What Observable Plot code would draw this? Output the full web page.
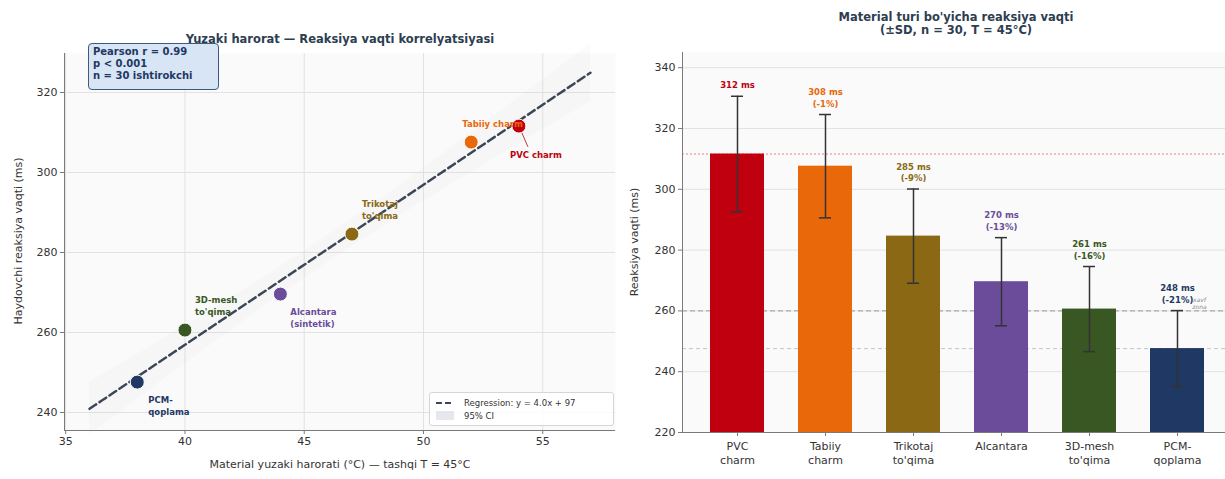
<!DOCTYPE html>
<html><head><meta charset="utf-8">
<script src="https://cdn.jsdelivr.net/npm/d3@7"></script>
<script src="https://cdn.jsdelivr.net/npm/@observablehq/plot@0.6"></script>
<style>
body{margin:0;background:#fff;font-family:"DejaVu Sans",sans-serif;}
#wrap{position:relative;width:1225px;height:479px;overflow:hidden;}
.abs{position:absolute;white-space:nowrap;}
.title{font-weight:bold;font-size:11.5px;color:#2c3e50;text-align:center;line-height:13px;}
.axlab{font-size:11px;color:#333;}
</style></head><body><div id="wrap"></div>
<script>
// ---- data ----
const materials = ["PVC charm","Tabiiy charm","Trikotaj to'qima","Alcantara","3D-mesh to'qima","PCM-qoplama"];
const barTickLabels = ["PVC\ncharm","Tabiiy\ncharm","Trikotaj\nto'qima","Alcantara","3D-mesh\nto'qima","PCM-\nqoplama"];
const scatterLabels = ["PVC charm","Tabiiy charm","Trikotaj\nto'qima","Alcantara\n(sintetik)","3D-mesh\nto'qima","PCM-\nqoplama"];
const surfaceTemp = [54, 52, 47, 44, 40, 38];
const reactionMean = [311.6, 307.6, 284.6, 269.6, 260.6, 247.6];
const reactionSD = [19, 17, 15.5, 14.5, 14, 12.5];
const colors = ["#C0000E", "#E8680A", "#8B6914", "#6B4C9A", "#385723", "#1F3864"];
const xTicksLeft = [35, 40, 45, 50, 55];
const yTicksLeft = [240, 260, 280, 300, 320];
const yTicksRight = [220, 240, 260, 280, 300, 320, 340];
const fitRange = [36, 57];
const thresholdLine = 260;
const statsText = ["Pearson r = 0.99", "p < 0.001", "n = 30 ishtirokchi"];

// ---- regression (from the data) ----
const n = surfaceTemp.length;
const mx = d3.mean(surfaceTemp), my = d3.mean(reactionMean);
const sxx = d3.sum(surfaceTemp, x => (x - mx) ** 2);
const sxy = d3.sum(surfaceTemp, (x, i) => (x - mx) * (reactionMean[i] - my));
const slope = sxy / sxx, intercept = my - slope * mx;
const sse = d3.sum(surfaceTemp, (x, i) => (reactionMean[i] - (intercept + slope * x)) ** 2);
const s = Math.sqrt(sse / (n - 2)), tcrit = 2.776;
const fitX = d3.range(fitRange[0], fitRange[1] + 0.001, 0.25);
const fitData = fitX.map(x => {
  const yh = intercept + slope * x;
  const h = tcrit * s * Math.sqrt(1 / n + (x - mx) ** 2 / sxx);
  return {x, y: yh, lo: yh - h, hi: yh + h};
});

const points = materials.map((m, i) => ({name: m, label: scatterLabels[i], x: surfaceTemp[i], y: reactionMean[i], color: colors[i]}));
const bars = materials.map((m, i) => {
  const pct = Math.round((reactionMean[i] - reactionMean[0]) / reactionMean[0] * 100);
  return {name: m, mean: reactionMean[i], sd: reactionSD[i], color: colors[i],
    label: i === 0 ? `${Math.round(reactionMean[i])} ms` : `${Math.round(reactionMean[i])} ms\n(${pct}%)`};
});

// label offsets (style, px)
const labelOffsets = [
  {dx: -9, dy: 28, anchor: "start"},
  {dx: -9, dy: -19, anchor: "start"},
  {dx: 10, dy: -25, anchor: "start"},
  {dx: 10, dy: 23, anchor: "start"},
  {dx: 10, dy: -25, anchor: "start"},
  {dx: 11, dy: 23, anchor: "start"}
];

const wrap = document.getElementById("wrap");
const font = "DejaVu Sans";
const gridStroke = "#e2e2e2";
const spine = "#7a7a7a";

// ---- left: scatter ----
const xDomL = [34.95, 58.05], yDomL = [235.5, 329.75];
const left = Plot.plot({
  width: 620, height: 479,
  marginLeft: 64, marginRight: 5, marginTop: 53, marginBottom: 49,
  style: {fontFamily: font, fontSize: "11px", background: "transparent", overflow: "visible"},
  x: {domain: xDomL},
  y: {domain: yDomL},
  marks: [
    Plot.frame({fill: "#fafafa", stroke: "none"}),
    Plot.gridX(xTicksLeft, {stroke: gridStroke, strokeOpacity: 1}),
    Plot.gridY(yTicksLeft, {stroke: gridStroke, strokeOpacity: 1}),
    Plot.areaY(fitData, {x: "x", y1: "lo", y2: "hi", fill: "#aab4c0", fillOpacity: 0.05}),
    Plot.line(fitData, {x: "x", y: "y", stroke: "#3b4657", strokeWidth: 2.5, strokeDasharray: "8,4"}),
    Plot.link([points[0]], {x1: "x", y1: "y", x2: d => d.x + 0.38, y2: d => d.y - 5.2, stroke: colors[0], strokeWidth: 0.8}),
    Plot.dot(points, {x: "x", y: "y", r: 7, fill: "color", stroke: "white", strokeWidth: 1}),
    ...points.map((p, i) => Plot.text([p], {x: "x", y: "y", text: "label", fill: p.color,
      fontWeight: "bold", fontSize: 8.5, textAnchor: labelOffsets[i].anchor, lineAnchor: "middle",
      lineHeight: 1.4, dx: labelOffsets[i].dx, dy: labelOffsets[i].dy})),
    Plot.ruleX([xDomL[0]], {stroke: spine}),
    Plot.ruleY([yDomL[0]], {stroke: spine}),
    Plot.axisX(xTicksLeft, {label: null, tickSize: 4, tickPadding: 3, stroke: spine, fill: "#333", fontSize: 11}),
    Plot.axisY(yTicksLeft, {label: null, tickSize: 4, tickPadding: 3, stroke: spine, fill: "#333", fontSize: 11})
  ]
});
left.style.position = "absolute"; left.style.left = "0px"; left.style.top = "0px";
wrap.appendChild(left);

// ---- right: bars ----
const yDomR = [220, 345];
const right = Plot.plot({
  width: 612, height: 479,
  marginLeft: 62, marginRight: 0, marginTop: 52, marginBottom: 47,
  style: {fontFamily: font, fontSize: "11px", background: "transparent", overflow: "visible"},
  x: {domain: materials, paddingInner: 0.39, paddingOuter: 0.31},
  y: {domain: yDomR},
  marks: [
    Plot.frame({fill: "#fafafa", stroke: "none"}),
    Plot.gridY(yTicksRight, {stroke: gridStroke, strokeOpacity: 1}),
    Plot.ruleY([reactionMean[0]], {stroke: "#e06a6a", strokeDasharray: "2,2", strokeWidth: 1, strokeOpacity: 0.8}),
    Plot.ruleY([thresholdLine], {stroke: "#9a9a9a", strokeDasharray: "5,3", strokeWidth: 1}),
    Plot.ruleY([reactionMean[5]], {stroke: "#c4c4c4", strokeDasharray: "4,3", strokeWidth: 1}),
    Plot.barY(bars, {x: "name", y: "mean", fill: "color", clip: true}),
    Plot.ruleX(bars, {x: "name", y1: d => d.mean - d.sd, y2: d => d.mean + d.sd, stroke: "#333", strokeWidth: 1.5}),
    Plot.tickY(bars, {x: "name", y: d => d.mean - d.sd, insetLeft: 21, insetRight: 21, stroke: "#333", strokeWidth: 1.5}),
    Plot.tickY(bars, {x: "name", y: d => d.mean + d.sd, insetLeft: 21, insetRight: 21, stroke: "#333", strokeWidth: 1.5}),
    Plot.text(bars, {x: "name", y: d => d.mean + d.sd, text: "label", fill: "color", fontWeight: "bold",
      fontSize: 8.5, lineAnchor: "bottom", lineHeight: 1.35, dy: -8}),
    Plot.text([thresholdLine], {x: () => materials[5], y: d => d, text: () => "xavf\nzona", dx: 22, dy: -8,
      fontSize: 6, fill: "#888", fontStyle: "italic", lineHeight: 1.3}),
    Plot.ruleY([yDomR[0]], {stroke: spine}),
    Plot.axisX({label: null, tickSize: 4, tickPadding: 4, stroke: spine, fill: "#333", fontSize: 11, lineHeight: 1.25,
      tickFormat: d => barTickLabels[materials.indexOf(d)]}),
    Plot.axisY(yTicksRight, {label: null, tickSize: 4, tickPadding: 3, stroke: spine, fill: "#333", fontSize: 11})
  ]
});
right.style.position = "absolute"; right.style.left = "620px"; right.style.top = "0px";
wrap.appendChild(right);

// ---- overlays: titles, labels, boxes ----
function addDiv(html, css, cls) {
  const d = document.createElement("div");
  d.className = "abs " + (cls || "");
  d.innerHTML = html;
  Object.assign(d.style, css);
  wrap.appendChild(d);
  return d;
}
// right spine
addDiv("", {left: "681.5px", top: "52px", width: "1px", height: "380px", background: spine});

addDiv("Yuzaki harorat — Reaksiya vaqti korrelyatsiyasi", {left: "140px", width: "400px", top: "33px"}, "title");
addDiv("Material turi bo'yicha reaksiya vaqti<br>(±SD, n = 30, T = 45°C)", {left: "756px", width: "400px", top: "11px"}, "title");

addDiv("Material yuzaki harorati (°C) — tashqi T = 45°C", {left: "140px", width: "400px", top: "458px", textAlign: "center"}, "axlab");
addDiv("Haydovchi reaksiya vaqti (ms)", {left: "18px", top: "241px", transform: "translate(-50%,-50%) rotate(-90deg)"}, "axlab");
addDiv("Reaksiya vaqti (ms)", {left: "634px", top: "242px", transform: "translate(-50%,-50%) rotate(-90deg)"}, "axlab");

// stats box
addDiv(statsText.join("<br>"), {left: "88px", top: "43px", width: "121px", height: "41px", padding: "2px 4px 2px 4px",
  background: "rgba(214,228,243,0.95)", border: "1.3px solid #3d5a80", borderRadius: "4px",
  fontWeight: "bold", fontSize: "10px", lineHeight: "12px", color: "#1F3864"});

// legend
const legendText = `Regression: y = ${slope.toFixed(1)}x + ${Math.round(intercept)}`;
addDiv(`<div style="display:flex;align-items:center;height:13px"><svg width="20" height="8" style="margin-right:9px"><line x1="1" y1="4" x2="19" y2="4" stroke="#3b4657" stroke-width="2.2" stroke-dasharray="6,3"/></svg>${legendText}</div>
<div style="display:flex;align-items:center;height:13px"><svg width="20" height="9" style="margin-right:9px"><rect x="1" y="0" width="18" height="9" fill="#aab4c0" fill-opacity="0.3"/></svg>95% CI</div>`,
  {left: "429px", top: "392px", width: "176px", padding: "3px 2px 3px 5px", background: "rgba(255,255,255,0.85)",
   border: "1px solid #d6d6d6", borderRadius: "3px", fontSize: "8.5px", color: "#333"});
</script>
</body></html>
